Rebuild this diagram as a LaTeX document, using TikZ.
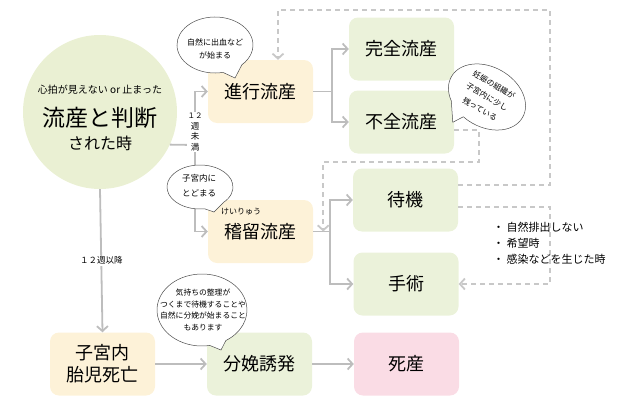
\documentclass[tikz,border=0pt]{standalone}
\usepackage{fontspec}
\setmainfont{Noto Sans CJK JP}
\usetikzlibrary{arrows.meta, calc, positioning}

\definecolor{judgegreen}{HTML}{EAF0D3}
\definecolor{stagegreen}{HTML}{EBF2DA}
\definecolor{stageyellow}{HTML}{FDF2D8}
\definecolor{stagepink}{HTML}{FADCE5}
\definecolor{linegray}{HTML}{BDBDBD}
\definecolor{dashgray}{HTML}{C8C8C8}

%% speech bubble: centre, x radius, y radius, start angle, end angle, tip
\newcommand\speechbubble[6]{%
  \draw [bubble] ($(#1)+(#4:#2 and #3)$)
    arc [start angle=#4, end angle=#5, x radius=#2, y radius=#3]
    -- (#6) -- cycle;
}

\begin{document}
\begin{tikzpicture}[x=1pt, y=-1pt,
      stage/.style = {rounded corners=9pt, minimum width=105pt,
                      minimum height=63pt, inner sep=0pt, align=center,
                      font=\fontsize{18}{22}\selectfont},
      early/.style = {stage, fill=stageyellow},
      result/.style = {stage, fill=stagegreen},
      stillbirth/.style = {stage, fill=stagepink},
      link/.style = {line width=1.8pt, draw=linegray},
      flow/.style = {link, arrows={-Straight Barb[length=5pt, width=11pt]}},
      fallback/.style = {line width=1.8pt, draw=dashgray,
                         dash pattern=on 5pt off 4pt,
                         arrows={-Straight Barb[length=5pt, width=11pt]}},
      bubble/.style = {draw=black!70, line width=0.5pt, fill=white},
      remark/.style = {align=center, inner sep=0pt},
      weeks/.style = {fill=white, inner sep=1pt, align=center,
                      font=\fontsize{8.5}{10.5}\selectfont},
    ]
    \useasboundingbox (0,0) rectangle (640,415);

    %% The diagnosis
    \node (judge) [circle, fill=judgegreen, minimum size=154pt] at (100,112) {};
    \node (judge top) [inner sep=0pt, font=\fontsize{10}{12}\selectfont]
      at (100,90) {心拍が見えない or 止まった};
    \node (judge main) [inner sep=0pt, font=\fontsize{23}{26}\selectfont]
      at (100,118) {流産と判断};
    \node (judge low) [inner sep=0pt, font=\fontsize{16}{18}\selectfont]
      at (100,143) {された時};

    %% The kinds of miscarriage and what follows
    \node (shinko) [early] at (260.5,91.5) {進行流産};
    \node (keiryu) [early] at (260.5,231.5) {稽留流産};
    \node (kanzen) [result] at (401.5,49) {完全流産};
    \node (fuzen) [result] at (401.5,122) {不全流産};
    \node (taiki) [result] at (405.5,200) {待機};
    \node (shujutsu) [result] at (406,284) {手術};
    \node (shikyu) [early] at (102.5,364) {子宮内\\胎児死亡};
    \node (bunben) [result] at (259.5,364) {分娩誘発};
    \node (shizan) [stillbirth] at (406.5,364) {死産};
    \node (furigana) [inner sep=0pt, font=\fontsize{8}{9}\selectfont]
      at (241,212) {けいりゅう};

    %% Solid connectors
    \coordinate (split) at (195,145);
    \draw [link] (judge.-25) -- (split);
    \draw [flow] (split) |- (shinko.west);
    \draw [flow] (split) |- (keiryu.west);
    \draw [link] (shinko.east) -- ++(19,0) coordinate (forkA);
    \draw [flow] (forkA) |- (kanzen.west);
    \draw [flow] (forkA) |- (fuzen.west);
    \draw [link] (keiryu.east) -- ++(17,0) coordinate (forkB);
    \draw [flow] (forkB) |- (taiki.west);
    \draw [flow] (forkB) |- (shujutsu.west);
    \draw [flow] (judge.south) -- (shikyu.north)
      node [midway, weeks] (over12) {１２週以降};
    \draw [flow] (shikyu.east) -- (bunben.west);
    \draw [flow] (bunben.east) -- (shizan.west);
    \node (under12) [weeks] at (195,132) {{\fontsize{7.5}{10.5}\selectfont １２}\\週\\未\\満};

    %% Dashed connectors
    \coordinate (topright) at (550,10);
    \coordinate (midright) at (479,162);
    \draw [fallback] ([yshift=15pt] taiki.east) -| (topright)
      -| ([xshift=17.5pt] shinko.north);
    \draw [fallback] ([yshift=-7pt] taiki.east) -| (topright |- shujutsu.east)
      -- (shujutsu.east);
    \draw [fallback] ([yshift=-8pt] fuzen.east) -| (midright)
      -| ([xshift=10pt] keiryu.east);

    %% Speech bubbles
    \speechbubble{215,45}{38}{28}{78}{405}{235,78}
    \node (bleeding) [remark, font=\fontsize{8}{13}\selectfont]
      at (215,48.5) {自然に出血など\\が始まる};
    \speechbubble{200,187}{33}{22}{82}{405}{214,212}
    \node (retained) [remark, font=\fontsize{8.5}{15}\selectfont]
      at (199,186) {子宮内に\\とどまる};
    \speechbubble{202,310}{45}{36}{80}{418}{221,350}
    \node (feelings) [remark, font=\fontsize{7.8}{11.8}\selectfont]
      at (203,310) {気持ちの整理が\\つくまで待機することや\\自然に分娩が始まること\\もあります};
    \begin{scope}[shift={(487,97)}, rotate=-30]
      \speechbubble{0,0}{41}{30}{135}{465}{-17,39}
    \end{scope}
    \node (remnant) [remark, rotate=-30, font=\fontsize{7.8}{14}\selectfont]
      at (487,97) {妊娠の組織が\\子宮内に少し\\残っている};

    %% Reasons for surgery
    \node (reasons) [anchor=west, align=left, inner sep=0pt,
                     font=\fontsize{11}{16}\selectfont] at (493,243)
      {・ 自然排出しない\\・ 希望時\\・ 感染などを生じた時};
  \end{tikzpicture}
\end{document}
